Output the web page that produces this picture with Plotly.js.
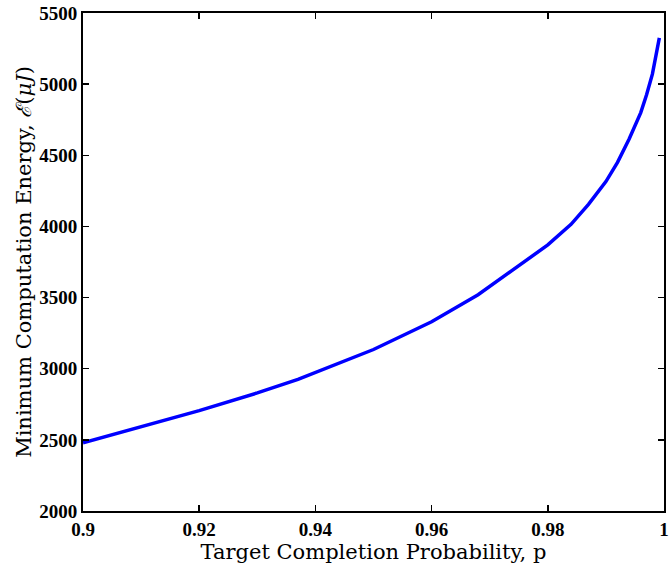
<!DOCTYPE html>
<html>
<head>
<meta charset="utf-8">
<script src="https://cdn.plot.ly/plotly-3.0.1.min.js"></script>
<style>html,body{margin:0;padding:0;background:#fff;}</style>
</head>
<body>
<div id="chart" style="width:670px;height:567px;"></div>
<script>
const probability = [0.9, 0.91, 0.92, 0.93, 0.937, 0.95, 0.96, 0.968, 0.975, 0.98, 0.984, 0.987, 0.99, 0.992, 0.994, 0.996, 0.997, 0.998, 0.9992];
const energy = [2479, 2590, 2705, 2830, 2925, 3135, 3330, 3520, 3720, 3870, 4015, 4155, 4315, 4450, 4615, 4800, 4925, 5070, 5325];
const xTickVals = [0.9, 0.92, 0.94, 0.96, 0.98, 1];
const xTickText = ["0.9", "0.92", "0.94", "0.96", "0.98", "1"];
const yTickVals = [2000, 2500, 3000, 3500, 4000, 4500, 5000, 5500];
const yTickText = ["2000", "2500", "3000", "3500", "4000", "4500", "5000", "5500"];

const bold = s => '<b>' + s + '</b>';
const trace = {
  x: probability, y: energy, type: 'scatter', mode: 'lines',
  line: {color: '#0000ff', width: 3.5}
};
const axisCommon = {
  showgrid: false, zeroline: false, showline: true, linecolor: '#000', linewidth: 2,
  ticks: 'inside', ticklen: 6, tickwidth: 1.5, tickcolor: '#000', mirror: 'ticks',
  tickfont: {family: 'Liberation Serif', size: 19, color: '#000'}
};
const titleFont = {family: 'DejaVu Serif', size: 21, color: '#000'};
const layout = {
  width: 670, height: 567,
  margin: {l: 83, r: 6, t: 12.5, b: 55.5},
  paper_bgcolor: '#fff', plot_bgcolor: '#fff',
  showlegend: false,
  xaxis: Object.assign({}, axisCommon, {
    range: [0.9, 1], tickvals: xTickVals, ticktext: xTickText.map(bold),
    title: {text: 'Target Completion Probability, p', font: titleFont, standoff: 0}
  }),
  yaxis: Object.assign({}, axisCommon, {
    range: [2000, 5500], tickvals: yTickVals, ticktext: yTickText.map(bold),
    title: {text: 'Minimum Computation Energy, <i>ℰ</i>(<i>μJ</i>)', font: titleFont, standoff: 2}
  })
};
Plotly.newPlot('chart', [trace], layout, {staticPlot: true, displayModeBar: false});
</script>
</body>
</html>
